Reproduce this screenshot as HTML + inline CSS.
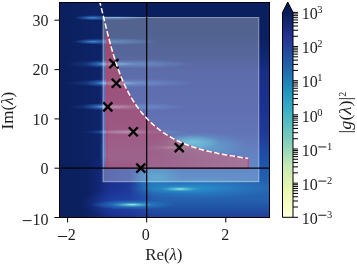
<!DOCTYPE html>
<html><head><meta charset="utf-8"><style>
html,body{margin:0;padding:0;background:#fff;width:357px;height:265px;overflow:hidden;}
svg{display:block;will-change:transform;}
text{font-family:"Liberation Serif",serif;fill:#1e1e1e;}
</style></head><body>
<svg width="357" height="265" viewBox="0 0 357 265">
<defs>
<clipPath id="pc"><rect x="59.5" y="2.5" width="210" height="215"/></clipPath>
<linearGradient id="cbg" x1="0" y1="1" x2="0" y2="0">
<stop offset="0" stop-color="#ffffd9"/><stop offset="0.125" stop-color="#edf8b1"/><stop offset="0.25" stop-color="#c7e9b4"/><stop offset="0.375" stop-color="#7fcdbb"/><stop offset="0.5" stop-color="#41b6c4"/><stop offset="0.625" stop-color="#1d91c0"/><stop offset="0.75" stop-color="#225ea8"/><stop offset="0.875" stop-color="#253494"/><stop offset="1" stop-color="#081d58"/>
</linearGradient>
<linearGradient id="vg" x1="0" y1="2" x2="0" y2="218" gradientUnits="userSpaceOnUse">
<stop offset="0" stop-color="#0a1f5c"/>
<stop offset="0.08" stop-color="#0a1f5e"/>
<stop offset="0.16" stop-color="#0a2062"/>
<stop offset="0.25" stop-color="#0f2672"/>
<stop offset="0.32" stop-color="#182d86"/>
<stop offset="0.5" stop-color="#1c3292"/>
<stop offset="0.6" stop-color="#1f3996"/>
<stop offset="0.68" stop-color="#2048a4"/>
<stop offset="0.78" stop-color="#1f5aae"/>
<stop offset="0.86" stop-color="#2666b2"/>
<stop offset="0.92" stop-color="#2460ae"/>
<stop offset="1" stop-color="#1e3e98"/>
</linearGradient>
<linearGradient id="lg" x1="59" y1="0" x2="104" y2="0" gradientUnits="userSpaceOnUse">
<stop offset="0" stop-color="#0a1f5c"/><stop offset="1" stop-color="#0f2468"/>
</linearGradient>
<linearGradient id="hm" x1="99" y1="0" x2="105" y2="0" gradientUnits="userSpaceOnUse">
<stop offset="0" stop-color="#000"/><stop offset="1" stop-color="#fff"/>
</linearGradient>
<mask id="hmask"><rect x="59" y="0" width="220" height="220" fill="url(#hm)"/></mask>
<linearGradient id="bl" x1="59" y1="0" x2="152" y2="0" gradientUnits="userSpaceOnUse">
<stop offset="0" stop-color="#0a1f5c" stop-opacity="1"/>
<stop offset="0.3" stop-color="#0c2162" stop-opacity="1"/>
<stop offset="0.44" stop-color="#132878" stop-opacity="0.95"/>
<stop offset="0.55" stop-color="#1a2b8c" stop-opacity="0.9"/>
<stop offset="0.76" stop-color="#1c2e92" stop-opacity="0.8"/>
<stop offset="0.88" stop-color="#1c3292" stop-opacity="0.35"/>
<stop offset="1" stop-color="#1c3292" stop-opacity="0"/>
</linearGradient>
<linearGradient id="blv" x1="0" y1="156" x2="0" y2="166" gradientUnits="userSpaceOnUse">
<stop offset="0" stop-color="#000"/><stop offset="1" stop-color="#fff"/>
</linearGradient>
<mask id="blm"><rect x="59" y="150" width="220" height="70" fill="url(#blv)"/></mask>
<radialGradient id="sg"><stop offset="0" stop-color="#50a8dc" stop-opacity="0.9"/><stop offset="0.4" stop-color="#3070c8" stop-opacity="0.55"/><stop offset="1" stop-color="#2a50b0" stop-opacity="0"/></radialGradient>
<radialGradient id="sg2"><stop offset="0" stop-color="#b8ecd8"/><stop offset="0.18" stop-color="#58c0d0" stop-opacity="0.9"/><stop offset="0.5" stop-color="#2a90c8" stop-opacity="0.5"/><stop offset="1" stop-color="#1d91c0" stop-opacity="0"/></radialGradient>
<radialGradient id="hal"><stop offset="0" stop-color="#2448b0" stop-opacity="0.75"/><stop offset="1" stop-color="#2448b0" stop-opacity="0"/></radialGradient>
<radialGradient id="bd"><stop offset="0" stop-color="#4a98d8" stop-opacity="0.5"/><stop offset="0.5" stop-color="#3a80d0" stop-opacity="0.3"/><stop offset="1" stop-color="#3a80d0" stop-opacity="0"/></radialGradient>
<radialGradient id="bd2"><stop offset="0" stop-color="#a0e0d0" stop-opacity="0.8"/><stop offset="0.4" stop-color="#50b0d0" stop-opacity="0.4"/><stop offset="1" stop-color="#3a80d0" stop-opacity="0"/></radialGradient>
<radialGradient id="gl3"><stop offset="0" stop-color="#40b8d0" stop-opacity="0.8"/><stop offset="1" stop-color="#40b8d0" stop-opacity="0"/></radialGradient>
<linearGradient id="pk" x1="107" y1="0" x2="249" y2="0" gradientUnits="userSpaceOnUse"><stop offset="0" stop-color="#cc4556"/><stop offset="0.3" stop-color="#cc4556"/><stop offset="0.65" stop-color="#d05a6e"/><stop offset="1" stop-color="#d4606c"/></linearGradient>
<radialGradient id="wb"><stop offset="0" stop-color="#d8e0f0" stop-opacity="0.35"/><stop offset="1" stop-color="#d8e0f0" stop-opacity="0"/></radialGradient>
<linearGradient id="pkv" x1="0" y1="30" x2="0" y2="168" gradientUnits="userSpaceOnUse"><stop offset="0" stop-color="#cc3a4e"/><stop offset="0.5" stop-color="#cc3e52"/><stop offset="1" stop-color="#cc4a62"/></linearGradient>
<linearGradient id="pkh" x1="107" y1="0" x2="249" y2="0" gradientUnits="userSpaceOnUse"><stop offset="0" stop-color="#b4a0bc" stop-opacity="0"/><stop offset="0.35" stop-color="#b4a0bc" stop-opacity="0"/><stop offset="1" stop-color="#b4a0bc" stop-opacity="0.28"/></linearGradient>
<radialGradient id="gl"><stop offset="0" stop-color="#1d91c0" stop-opacity="0.8"/><stop offset="1" stop-color="#1d91c0" stop-opacity="0"/></radialGradient>
<radialGradient id="gl2"><stop offset="0" stop-color="#2a8ccc" stop-opacity="0.95"/><stop offset="1" stop-color="#2a86c8" stop-opacity="0"/></radialGradient>
</defs>
<g clip-path="url(#pc)">
<rect x="59" y="2" width="211" height="216" fill="url(#lg)"/>
<g mask="url(#hmask)"><rect x="80" y="2" width="200" height="216" fill="url(#vg)"/></g>
<g mask="url(#blm)"><rect x="59" y="150" width="95" height="70" fill="url(#bl)"/></g>
<!-- glows -->
<ellipse cx="198" cy="146" rx="50" ry="14" fill="url(#gl)"/>
<ellipse cx="192" cy="142" rx="28" ry="7" fill="url(#gl3)"/>
<ellipse cx="156" cy="178" rx="25" ry="13" fill="url(#gl)"/>
<ellipse cx="200" cy="188" rx="75" ry="11" fill="url(#gl2)"/>
<!-- streaks -->
<ellipse cx="92" cy="17.8" rx="19" ry="2.8" fill="url(#sg)"/>
<ellipse cx="93" cy="41.6" rx="19" ry="2.8" fill="url(#sg)"/>
<ellipse cx="103" cy="64" rx="18" ry="3.6" fill="url(#sg)"/>
<ellipse cx="103" cy="83" rx="18" ry="3.6" fill="url(#sg)"/>
<ellipse cx="103" cy="106.6" rx="21" ry="3.6" fill="url(#sg)"/>
<ellipse cx="106" cy="132" rx="16" ry="3" fill="url(#sg)" opacity="0.5"/>
<ellipse cx="112" cy="18" rx="35" ry="2.5" fill="url(#bd)"/>
<ellipse cx="115" cy="41.6" rx="45" ry="3.5" fill="url(#bd)"/>
<ellipse cx="130" cy="64" rx="65" ry="4.5" fill="url(#bd)"/>
<ellipse cx="130" cy="83" rx="65" ry="4.5" fill="url(#bd)"/>
<ellipse cx="128" cy="106.8" rx="60" ry="4" fill="url(#bd)"/>
<ellipse cx="135" cy="132" rx="55" ry="3" fill="url(#bd)"/>
<ellipse cx="172" cy="147.5" rx="30" ry="3" fill="url(#bd2)"/>
<ellipse cx="180" cy="189" rx="40" ry="5" fill="url(#sg2)"/>
<ellipse cx="122" cy="203" rx="42" ry="14" fill="url(#hal)"/>
<ellipse cx="132" cy="204.7" rx="42" ry="5" fill="url(#sg2)"/>
<!-- overlay -->
<rect x="103" y="17.5" width="155.8" height="164.2" fill="#fff" fill-opacity="0.3" stroke="#fff" stroke-opacity="0.45" stroke-width="1"/>
<path d="M106.90,30.61 L107.04,31.17 L107.19,31.78 L107.34,32.39 L107.50,33.00 L107.65,33.60 L107.80,34.21 L107.96,34.82 L108.11,35.43 L108.27,36.04 L108.43,36.65 L108.58,37.26 L108.74,37.87 L108.90,38.48 L109.06,39.09 L109.22,39.70 L109.38,40.31 L109.54,40.92 L109.70,41.53 L109.86,42.14 L110.03,42.75 L110.19,43.36 L110.36,43.97 L110.52,44.58 L110.69,45.19 L110.86,45.80 L111.02,46.41 L111.19,47.02 L111.36,47.63 L111.53,48.24 L111.71,48.85 L111.88,49.46 L112.05,50.06 L112.23,50.67 L112.40,51.28 L112.58,51.89 L112.76,52.50 L112.94,53.11 L113.12,53.71 L113.30,54.32 L113.48,54.93 L113.67,55.53 L113.85,56.14 L114.04,56.74 L114.22,57.35 L114.41,57.95 L114.60,58.56 L114.79,59.16 L114.98,59.77 L115.18,60.37 L115.37,60.97 L115.57,61.57 L115.76,62.17 L115.96,62.77 L116.16,63.37 L116.36,63.97 L116.57,64.57 L116.77,65.17 L116.98,65.77 L117.18,66.37 L117.39,66.96 L117.60,67.56 L117.81,68.15 L118.02,68.75 L118.24,69.34 L118.45,69.93 L118.67,70.52 L118.89,71.11 L119.11,71.70 L119.61,73.02 L120.12,74.34 L120.64,75.65 L121.16,76.96 L121.70,78.26 L122.24,79.56 L122.80,80.85 L123.36,82.13 L123.93,83.41 L124.51,84.69 L125.10,85.95 L125.71,87.21 L126.32,88.47 L126.94,89.71 L127.58,90.95 L128.22,92.19 L128.88,93.41 L129.54,94.63 L130.22,95.84 L130.91,97.04 L131.61,98.23 L132.33,99.42 L133.05,100.60 L133.79,101.76 L134.54,102.92 L135.31,104.07 L136.09,105.21 L136.88,106.34 L137.68,107.46 L138.50,108.57 L139.33,109.68 L140.18,110.77 L141.03,111.85 L141.91,112.91 L142.80,113.97 L143.70,115.02 L144.61,116.05 L145.54,117.08 L146.48,118.09 L147.44,119.09 L148.41,120.08 L149.39,121.05 L150.39,122.02 L151.39,122.97 L152.42,123.90 L153.45,124.83 L154.49,125.74 L155.55,126.64 L156.62,127.52 L157.70,128.39 L158.79,129.25 L159.90,130.09 L161.01,130.92 L162.14,131.73 L163.28,132.53 L164.43,133.31 L165.59,134.08 L166.76,134.83 L167.94,135.57 L169.13,136.29 L170.33,137.00 L171.54,137.69 L172.76,138.36 L173.99,139.02 L175.23,139.66 L176.48,140.29 L177.74,140.90 L179.00,141.50 L180.28,142.08 L181.56,142.65 L182.84,143.20 L184.14,143.74 L185.44,144.27 L186.75,144.78 L188.07,145.28 L189.39,145.76 L190.71,146.24 L192.05,146.69 L193.38,147.14 L194.73,147.57 L196.07,147.99 L197.42,148.40 L198.78,148.80 L200.14,149.19 L201.50,149.57 L202.87,149.93 L204.24,150.29 L205.61,150.64 L206.99,150.97 L208.36,151.30 L209.74,151.62 L211.12,151.94 L212.51,152.24 L213.89,152.54 L215.28,152.83 L216.66,153.11 L218.05,153.39 L219.44,153.66 L220.83,153.92 L222.21,154.18 L223.60,154.44 L224.99,154.69 L226.37,154.93 L227.76,155.17 L229.14,155.41 L230.52,155.65 L231.90,155.88 L233.28,156.11 L234.65,156.33 L236.02,156.56 L237.39,156.78 L238.76,157.01 L240.12,157.23 L241.48,157.45 L242.83,157.67 L244.18,157.89 L245.53,158.11 L246.87,158.33 L248.20,158.56 L248.20,168.2 L106.90,168.2 Z" fill="url(#pkv)" fill-opacity="0.55"/>
<path d="M106.90,30.61 L107.04,31.17 L107.19,31.78 L107.34,32.39 L107.50,33.00 L107.65,33.60 L107.80,34.21 L107.96,34.82 L108.11,35.43 L108.27,36.04 L108.43,36.65 L108.58,37.26 L108.74,37.87 L108.90,38.48 L109.06,39.09 L109.22,39.70 L109.38,40.31 L109.54,40.92 L109.70,41.53 L109.86,42.14 L110.03,42.75 L110.19,43.36 L110.36,43.97 L110.52,44.58 L110.69,45.19 L110.86,45.80 L111.02,46.41 L111.19,47.02 L111.36,47.63 L111.53,48.24 L111.71,48.85 L111.88,49.46 L112.05,50.06 L112.23,50.67 L112.40,51.28 L112.58,51.89 L112.76,52.50 L112.94,53.11 L113.12,53.71 L113.30,54.32 L113.48,54.93 L113.67,55.53 L113.85,56.14 L114.04,56.74 L114.22,57.35 L114.41,57.95 L114.60,58.56 L114.79,59.16 L114.98,59.77 L115.18,60.37 L115.37,60.97 L115.57,61.57 L115.76,62.17 L115.96,62.77 L116.16,63.37 L116.36,63.97 L116.57,64.57 L116.77,65.17 L116.98,65.77 L117.18,66.37 L117.39,66.96 L117.60,67.56 L117.81,68.15 L118.02,68.75 L118.24,69.34 L118.45,69.93 L118.67,70.52 L118.89,71.11 L119.11,71.70 L119.61,73.02 L120.12,74.34 L120.64,75.65 L121.16,76.96 L121.70,78.26 L122.24,79.56 L122.80,80.85 L123.36,82.13 L123.93,83.41 L124.51,84.69 L125.10,85.95 L125.71,87.21 L126.32,88.47 L126.94,89.71 L127.58,90.95 L128.22,92.19 L128.88,93.41 L129.54,94.63 L130.22,95.84 L130.91,97.04 L131.61,98.23 L132.33,99.42 L133.05,100.60 L133.79,101.76 L134.54,102.92 L135.31,104.07 L136.09,105.21 L136.88,106.34 L137.68,107.46 L138.50,108.57 L139.33,109.68 L140.18,110.77 L141.03,111.85 L141.91,112.91 L142.80,113.97 L143.70,115.02 L144.61,116.05 L145.54,117.08 L146.48,118.09 L147.44,119.09 L148.41,120.08 L149.39,121.05 L150.39,122.02 L151.39,122.97 L152.42,123.90 L153.45,124.83 L154.49,125.74 L155.55,126.64 L156.62,127.52 L157.70,128.39 L158.79,129.25 L159.90,130.09 L161.01,130.92 L162.14,131.73 L163.28,132.53 L164.43,133.31 L165.59,134.08 L166.76,134.83 L167.94,135.57 L169.13,136.29 L170.33,137.00 L171.54,137.69 L172.76,138.36 L173.99,139.02 L175.23,139.66 L176.48,140.29 L177.74,140.90 L179.00,141.50 L180.28,142.08 L181.56,142.65 L182.84,143.20 L184.14,143.74 L185.44,144.27 L186.75,144.78 L188.07,145.28 L189.39,145.76 L190.71,146.24 L192.05,146.69 L193.38,147.14 L194.73,147.57 L196.07,147.99 L197.42,148.40 L198.78,148.80 L200.14,149.19 L201.50,149.57 L202.87,149.93 L204.24,150.29 L205.61,150.64 L206.99,150.97 L208.36,151.30 L209.74,151.62 L211.12,151.94 L212.51,152.24 L213.89,152.54 L215.28,152.83 L216.66,153.11 L218.05,153.39 L219.44,153.66 L220.83,153.92 L222.21,154.18 L223.60,154.44 L224.99,154.69 L226.37,154.93 L227.76,155.17 L229.14,155.41 L230.52,155.65 L231.90,155.88 L233.28,156.11 L234.65,156.33 L236.02,156.56 L237.39,156.78 L238.76,157.01 L240.12,157.23 L241.48,157.45 L242.83,157.67 L244.18,157.89 L245.53,158.11 L246.87,158.33 L248.20,158.56 L248.20,168.2 L106.90,168.2 Z" fill="url(#pkh)" stroke="#e03050" stroke-opacity="0.8" stroke-width="1.1"/>
<ellipse cx="116" cy="106.9" rx="24" ry="2.6" fill="url(#wb)"/>
<ellipse cx="126" cy="132" rx="28" ry="2.6" fill="url(#wb)"/>
<ellipse cx="118" cy="83.3" rx="22" ry="2.4" fill="url(#wb)"/>
<ellipse cx="115" cy="64" rx="18" ry="2.4" fill="url(#wb)"/>
<line x1="146.7" y1="0" x2="146.7" y2="220" stroke="#000" stroke-width="1.2"/>
<line x1="55" y1="168.2" x2="275" y2="168.2" stroke="#000" stroke-width="1.2"/>
<g stroke="#000" stroke-width="2.3" stroke-linecap="butt">
<path d="M109.4,59.1 L118.4,68.1 M118.4,59.1 L109.4,68.1"/>
<path d="M111.8,78.7 L120.8,87.7 M120.8,78.7 L111.8,87.7"/>
<path d="M103.3,102.4 L112.3,111.4 M112.3,102.4 L103.3,111.4"/>
<path d="M128.8,127.3 L137.8,136.3 M137.8,127.3 L128.8,136.3"/>
<path d="M174.7,143.1 L183.7,152.1 M183.7,143.1 L174.7,152.1"/>
<path d="M136.3,163.6 L145.3,172.6 M145.3,163.6 L136.3,172.6"/>
</g>
<polyline points="99.41,0.44 99.56,1.01 99.71,1.58 99.85,2.15 100.00,2.72 100.15,3.29 100.30,3.87 100.44,4.44 100.59,5.02 100.74,5.59 100.89,6.17 101.03,6.75 101.18,7.33 101.32,7.91 101.47,8.49 101.62,9.08 101.76,9.66 101.91,10.24 102.05,10.83 102.20,11.42 102.34,12.00 102.49,12.59 102.63,13.18 102.78,13.77 102.92,14.36 103.07,14.95 103.21,15.55 103.36,16.14 103.50,16.73 103.65,17.33 103.79,17.92 103.94,18.52 104.08,19.12 104.23,19.71 104.37,20.31 104.52,20.91 104.66,21.51 104.81,22.11 104.96,22.71 105.10,23.31 105.25,23.91 105.40,24.52 105.55,25.12 105.69,25.72 105.84,26.33 105.99,26.93 106.14,27.54 106.29,28.14 106.44,28.75 106.59,29.35 106.74,29.96 106.89,30.57 107.04,31.17 107.19,31.78 107.34,32.39 107.50,33.00 107.65,33.60 107.80,34.21 107.96,34.82 108.11,35.43 108.27,36.04 108.43,36.65 108.58,37.26 108.74,37.87 108.90,38.48 109.06,39.09 109.22,39.70 109.38,40.31 109.54,40.92 109.70,41.53 109.86,42.14 110.03,42.75 110.19,43.36 110.36,43.97 110.52,44.58 110.69,45.19 110.86,45.80 111.02,46.41 111.19,47.02 111.36,47.63 111.53,48.24 111.71,48.85 111.88,49.46 112.05,50.06 112.23,50.67 112.40,51.28 112.58,51.89 112.76,52.50 112.94,53.11 113.12,53.71 113.30,54.32 113.48,54.93 113.67,55.53 113.85,56.14 114.04,56.74 114.22,57.35 114.41,57.95 114.60,58.56 114.79,59.16 114.98,59.77 115.18,60.37 115.37,60.97 115.57,61.57 115.76,62.17 115.96,62.77 116.16,63.37 116.36,63.97 116.57,64.57 116.77,65.17 116.98,65.77 117.18,66.37 117.39,66.96 117.60,67.56 117.81,68.15 118.02,68.75 118.24,69.34 118.45,69.93 118.67,70.52 118.89,71.11 119.11,71.70 119.61,73.02 120.12,74.34 120.64,75.65 121.16,76.96 121.70,78.26 122.24,79.56 122.80,80.85 123.36,82.13 123.93,83.41 124.51,84.69 125.10,85.95 125.71,87.21 126.32,88.47 126.94,89.71 127.58,90.95 128.22,92.19 128.88,93.41 129.54,94.63 130.22,95.84 130.91,97.04 131.61,98.23 132.33,99.42 133.05,100.60 133.79,101.76 134.54,102.92 135.31,104.07 136.09,105.21 136.88,106.34 137.68,107.46 138.50,108.57 139.33,109.68 140.18,110.77 141.03,111.85 141.91,112.91 142.80,113.97 143.70,115.02 144.61,116.05 145.54,117.08 146.48,118.09 147.44,119.09 148.41,120.08 149.39,121.05 150.39,122.02 151.39,122.97 152.42,123.90 153.45,124.83 154.49,125.74 155.55,126.64 156.62,127.52 157.70,128.39 158.79,129.25 159.90,130.09 161.01,130.92 162.14,131.73 163.28,132.53 164.43,133.31 165.59,134.08 166.76,134.83 167.94,135.57 169.13,136.29 170.33,137.00 171.54,137.69 172.76,138.36 173.99,139.02 175.23,139.66 176.48,140.29 177.74,140.90 179.00,141.50 180.28,142.08 181.56,142.65 182.84,143.20 184.14,143.74 185.44,144.27 186.75,144.78 188.07,145.28 189.39,145.76 190.71,146.24 192.05,146.69 193.38,147.14 194.73,147.57 196.07,147.99 197.42,148.40 198.78,148.80 200.14,149.19 201.50,149.57 202.87,149.93 204.24,150.29 205.61,150.64 206.99,150.97 208.36,151.30 209.74,151.62 211.12,151.94 212.51,152.24 213.89,152.54 215.28,152.83 216.66,153.11 218.05,153.39 219.44,153.66 220.83,153.92 222.21,154.18 223.60,154.44 224.99,154.69 226.37,154.93 227.76,155.17 229.14,155.41 230.52,155.65 231.90,155.88 233.28,156.11 234.65,156.33 236.02,156.56 237.39,156.78 238.76,157.01 240.12,157.23 241.48,157.45 242.83,157.67 244.18,157.89 245.53,158.11 246.87,158.33 248.20,158.56" fill="none" stroke="#fff" stroke-width="1.5" stroke-dasharray="5.5 2.4"/>
</g>
<rect x="59.5" y="2.5" width="210" height="215" fill="none" stroke="#000" stroke-width="1"/>
<g stroke="#000" stroke-width="1">
<line x1="54.5" x2="59.5" y1="20.2" y2="20.2"/>
<line x1="54.5" x2="59.5" y1="69.6" y2="69.6"/>
<line x1="54.5" x2="59.5" y1="118.9" y2="118.9"/>
<line x1="54.5" x2="59.5" y1="168.2" y2="168.2"/>
<line x1="54.5" x2="59.5" y1="217.5" y2="217.5"/>
<line x1="67.6" x2="67.6" y1="217.5" y2="222.5"/>
<line x1="146.7" x2="146.7" y1="217.5" y2="222.5"/>
<line x1="225.8" x2="225.8" y1="217.5" y2="222.5"/>
</g>
<g font-size="16" text-anchor="end">
<text x="48.6" y="25.75">30</text>
<text x="48.6" y="75.35">20</text>
<text x="48.6" y="124.8">10</text>
<text x="48.6" y="174.1">0</text>
<text x="48.6" y="224.7">10</text>
</g>
<g font-size="16" text-anchor="middle">
<text x="71.85" y="240.4">2</text>
<text x="145.75" y="240.4">0</text>
<text x="225.15" y="240.4">2</text>
</g>
<g stroke="#1e1e1e" stroke-width="1">
<line x1="22.7" x2="31.6" y1="220.6" y2="220.6"/>
<line x1="58" x2="67.2" y1="236.5" y2="236.5"/>
</g>
<text x="145.2" y="259.6" font-size="16" textLength="37.3" lengthAdjust="spacingAndGlyphs">Re(<tspan font-style="italic">&#955;</tspan>)</text>
<text transform="translate(12.9,129.4) rotate(-90)" font-size="16" textLength="37.6" lengthAdjust="spacingAndGlyphs">Im(<tspan font-style="italic">&#955;</tspan>)</text>
<!-- colorbar -->
<rect x="282.5" y="12.4" width="10.5" height="204.9" fill="url(#cbg)"/>
<path d="M282.5,13 L282.5,12.4 L287.75,2 L293,12.4 L293,13 Z" fill="#081d58"/>
<path d="M282.5,12.4 L287.75,2 L293,12.4 L293,217.3 L282.5,217.3 Z" fill="none" stroke="#000" stroke-width="1"/>
<g stroke="#000" stroke-width="1"><line x1="293" x2="298" y1="12.40" y2="12.40"/><line x1="293" x2="298" y1="36.27" y2="36.27"/><line x1="293" x2="298" y1="30.26" y2="30.26"/><line x1="293" x2="298" y1="25.99" y2="25.99"/><line x1="293" x2="298" y1="22.68" y2="22.68"/><line x1="293" x2="298" y1="19.98" y2="19.98"/><line x1="293" x2="298" y1="17.69" y2="17.69"/><line x1="293" x2="298" y1="15.71" y2="15.71"/><line x1="293" x2="298" y1="13.96" y2="13.96"/><line x1="293" x2="298" y1="46.55" y2="46.55"/><line x1="293" x2="298" y1="70.42" y2="70.42"/><line x1="293" x2="298" y1="64.41" y2="64.41"/><line x1="293" x2="298" y1="60.14" y2="60.14"/><line x1="293" x2="298" y1="56.83" y2="56.83"/><line x1="293" x2="298" y1="54.13" y2="54.13"/><line x1="293" x2="298" y1="51.84" y2="51.84"/><line x1="293" x2="298" y1="49.86" y2="49.86"/><line x1="293" x2="298" y1="48.11" y2="48.11"/><line x1="293" x2="298" y1="80.70" y2="80.70"/><line x1="293" x2="298" y1="104.57" y2="104.57"/><line x1="293" x2="298" y1="98.56" y2="98.56"/><line x1="293" x2="298" y1="94.29" y2="94.29"/><line x1="293" x2="298" y1="90.98" y2="90.98"/><line x1="293" x2="298" y1="88.28" y2="88.28"/><line x1="293" x2="298" y1="85.99" y2="85.99"/><line x1="293" x2="298" y1="84.01" y2="84.01"/><line x1="293" x2="298" y1="82.26" y2="82.26"/><line x1="293" x2="298" y1="114.85" y2="114.85"/><line x1="293" x2="298" y1="138.72" y2="138.72"/><line x1="293" x2="298" y1="132.71" y2="132.71"/><line x1="293" x2="298" y1="128.44" y2="128.44"/><line x1="293" x2="298" y1="125.13" y2="125.13"/><line x1="293" x2="298" y1="122.43" y2="122.43"/><line x1="293" x2="298" y1="120.14" y2="120.14"/><line x1="293" x2="298" y1="118.16" y2="118.16"/><line x1="293" x2="298" y1="116.41" y2="116.41"/><line x1="293" x2="298" y1="149.00" y2="149.00"/><line x1="293" x2="298" y1="172.87" y2="172.87"/><line x1="293" x2="298" y1="166.86" y2="166.86"/><line x1="293" x2="298" y1="162.59" y2="162.59"/><line x1="293" x2="298" y1="159.28" y2="159.28"/><line x1="293" x2="298" y1="156.58" y2="156.58"/><line x1="293" x2="298" y1="154.29" y2="154.29"/><line x1="293" x2="298" y1="152.31" y2="152.31"/><line x1="293" x2="298" y1="150.56" y2="150.56"/><line x1="293" x2="298" y1="183.15" y2="183.15"/><line x1="293" x2="298" y1="207.02" y2="207.02"/><line x1="293" x2="298" y1="201.01" y2="201.01"/><line x1="293" x2="298" y1="196.74" y2="196.74"/><line x1="293" x2="298" y1="193.43" y2="193.43"/><line x1="293" x2="298" y1="190.73" y2="190.73"/><line x1="293" x2="298" y1="188.44" y2="188.44"/><line x1="293" x2="298" y1="186.46" y2="186.46"/><line x1="293" x2="298" y1="184.71" y2="184.71"/><line x1="293" x2="298" y1="217.30" y2="217.30"/></g>
<g><text x="301.8" y="19.05" font-size="16">10</text><text x="317.3" y="13.05" font-size="10.5">3</text><text x="301.8" y="53.20" font-size="16">10</text><text x="317.3" y="47.20" font-size="10.5">2</text><text x="301.8" y="87.35" font-size="16">10</text><text x="317.3" y="81.35" font-size="10.5">1</text><text x="301.8" y="121.50" font-size="16">10</text><text x="317.3" y="115.50" font-size="10.5">0</text><text x="301.8" y="155.65" font-size="16">10</text><line x1="318.3" x2="326.3" y1="146.95" y2="146.95" stroke="#000" stroke-width="0.9"/><text x="326.9" y="149.65" font-size="10.5">1</text><text x="301.8" y="189.80" font-size="16">10</text><line x1="318.3" x2="326.3" y1="181.10" y2="181.10" stroke="#000" stroke-width="0.9"/><text x="326.9" y="183.80" font-size="10.5">2</text><text x="301.8" y="223.95" font-size="16">10</text><line x1="318.3" x2="326.3" y1="215.25" y2="215.25" stroke="#000" stroke-width="0.9"/><text x="326.9" y="217.95" font-size="10.5">3</text></g>
<text transform="translate(351.4,133.4) rotate(-90)" font-size="16" textLength="36.6" lengthAdjust="spacingAndGlyphs">|<tspan font-style="italic">g</tspan>(<tspan font-style="italic">&#955;</tspan>)|</text><text transform="translate(346.1,96.7) rotate(-90)" font-size="10">2</text>
</svg>
</body></html>
